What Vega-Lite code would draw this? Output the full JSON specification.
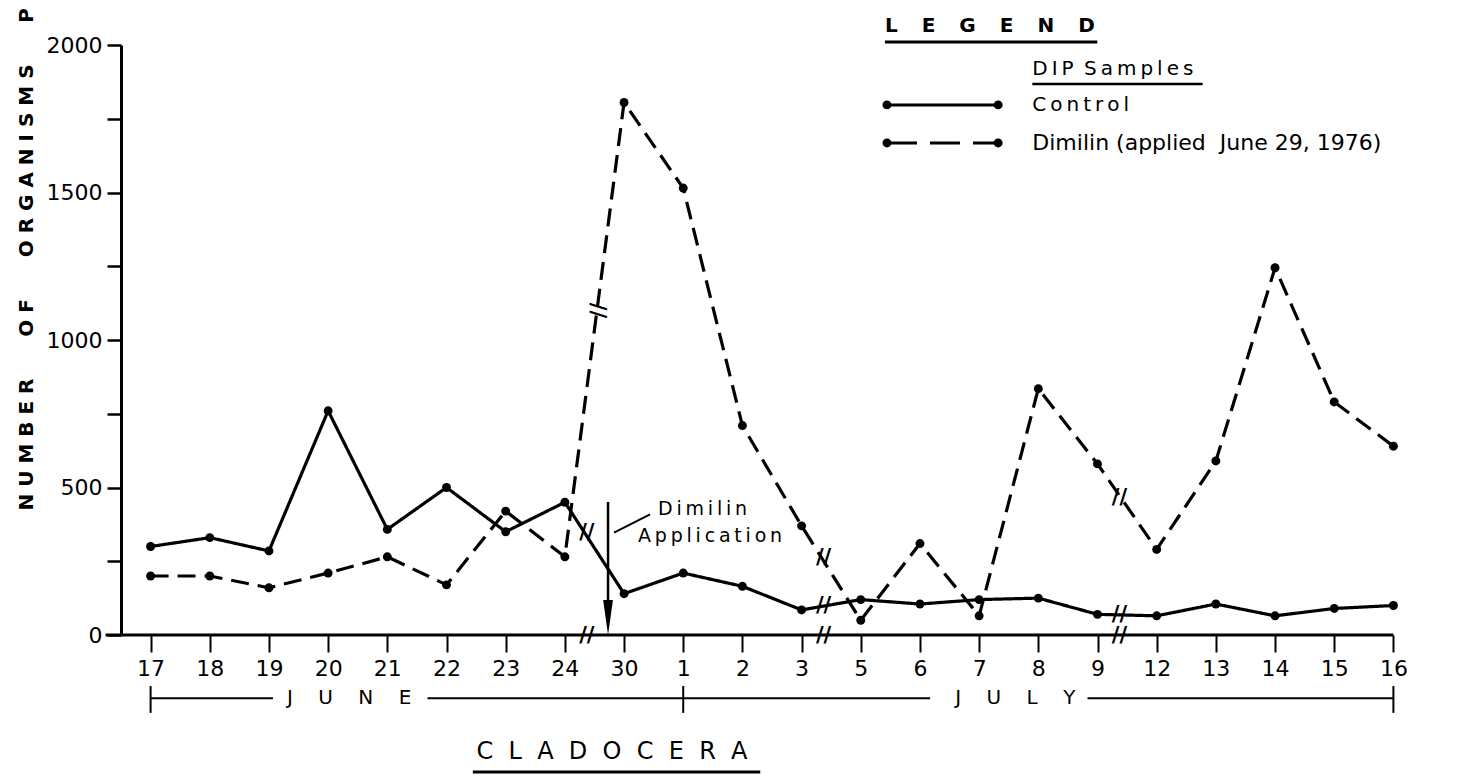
{
  "$schema": "https://vega.github.io/schema/vega-lite/v6.json",
  "width": 1302,
  "height": 590,
  "autosize": {"type": "none"},
  "padding": {"left": 121, "top": 45, "right": 35, "bottom": 148},
  "background": "white",
  "config": {
    "view": {"stroke": null},
    "font": "DejaVu Sans",
    "text": {"color": "black", "font": "DejaVu Sans"}
  },
  "datasets": {
    "counts": [
      {"day": "17", "month": "June", "series": "Control", "count": 300},
      {"day": "18", "month": "June", "series": "Control", "count": 330},
      {"day": "19", "month": "June", "series": "Control", "count": 285},
      {"day": "20", "month": "June", "series": "Control", "count": 760},
      {"day": "21", "month": "June", "series": "Control", "count": 358},
      {"day": "22", "month": "June", "series": "Control", "count": 500},
      {"day": "23", "month": "June", "series": "Control", "count": 350},
      {"day": "24", "month": "June", "series": "Control", "count": 450},
      {"day": "30", "month": "June", "series": "Control", "count": 140},
      {"day": "1", "month": "July", "series": "Control", "count": 210},
      {"day": "2", "month": "July", "series": "Control", "count": 165},
      {"day": "3", "month": "July", "series": "Control", "count": 85},
      {"day": "5", "month": "July", "series": "Control", "count": 120},
      {"day": "6", "month": "July", "series": "Control", "count": 105},
      {"day": "7", "month": "July", "series": "Control", "count": 120},
      {"day": "8", "month": "July", "series": "Control", "count": 125},
      {"day": "9", "month": "July", "series": "Control", "count": 70},
      {"day": "12", "month": "July", "series": "Control", "count": 65},
      {"day": "13", "month": "July", "series": "Control", "count": 105},
      {"day": "14", "month": "July", "series": "Control", "count": 65},
      {"day": "15", "month": "July", "series": "Control", "count": 90},
      {"day": "16", "month": "July", "series": "Control", "count": 100},
      {"day": "17", "month": "June", "series": "Dimilin", "count": 200},
      {"day": "18", "month": "June", "series": "Dimilin", "count": 200},
      {"day": "19", "month": "June", "series": "Dimilin", "count": 160},
      {"day": "20", "month": "June", "series": "Dimilin", "count": 210},
      {"day": "21", "month": "June", "series": "Dimilin", "count": 265},
      {"day": "22", "month": "June", "series": "Dimilin", "count": 170},
      {"day": "23", "month": "June", "series": "Dimilin", "count": 420},
      {"day": "24", "month": "June", "series": "Dimilin", "count": 265},
      {"day": "30", "month": "June", "series": "Dimilin", "count": 1805},
      {"day": "1", "month": "July", "series": "Dimilin", "count": 1515},
      {"day": "2", "month": "July", "series": "Dimilin", "count": 710},
      {"day": "3", "month": "July", "series": "Dimilin", "count": 370},
      {"day": "5", "month": "July", "series": "Dimilin", "count": 50},
      {"day": "6", "month": "July", "series": "Dimilin", "count": 310},
      {"day": "7", "month": "July", "series": "Dimilin", "count": 65},
      {"day": "8", "month": "July", "series": "Dimilin", "count": 835},
      {"day": "9", "month": "July", "series": "Dimilin", "count": 580},
      {"day": "12", "month": "July", "series": "Dimilin", "count": 290},
      {"day": "13", "month": "July", "series": "Dimilin", "count": 590},
      {"day": "14", "month": "July", "series": "Dimilin", "count": 1245},
      {"day": "15", "month": "July", "series": "Dimilin", "count": 790},
      {"day": "16", "month": "July", "series": "Dimilin", "count": 640}
    ],
    "breaks": [
      {"day": "24", "count": 345, "line": "Control"},
      {"day": "24", "count": 1100, "line": "Steep"},
      {"day": "3", "count": 262, "line": "Dimilin"},
      {"day": "3", "count": 97, "line": "Control"},
      {"day": "9", "count": 463, "line": "Dimilin"},
      {"day": "9", "count": 68, "line": "Control"},
      {"day": "24", "count": -4, "line": "axis"},
      {"day": "3", "count": -4, "line": "axis"},
      {"day": "9", "count": -4, "line": "axis"}
    ]
  },
  "layer": [
    {
      "data": {"name": "counts"},
      "mark": {"type": "line", "color": "black", "strokeWidth": 3.2},
      "encoding": {
        "x": {
          "field": "day",
          "type": "ordinal",
          "sort": ["17","18","19","20","21","22","23","24","30","1","2","3","5","6","7","8","9","12","13","14","15","16"],
          "scale": {"type": "point", "padding": 0.5, "domain": ["17","18","19","20","21","22","23","24","30","1","2","3","5","6","7","8","9","12","13","14","15","16"]},
          "axis": {
            "title": null,
            "domain": false,
            "grid": false,
            "labelAngle": 0,
            "tickSize": 17,
            "tickWidth": 2,
            "tickColor": "black",
            "labelFont": "DejaVu Sans",
            "labelFontSize": 22,
            "labelColor": "black",
            "labelPadding": 6
          }
        },
        "y": {
          "field": "count",
          "type": "quantitative",
          "scale": {"domain": [0, 2000], "nice": false, "zero": false},
          "axis": {
            "values": [0, 250, 500, 750, 1000, 1250, 1500, 1750, 2000],
            "format": "d",
            "labelExpr": "datum.value % 500 === 0 ? datum.label : ''",
            "grid": false,
            "domainColor": "black",
            "domainWidth": 3,
            "tickColor": "black",
            "tickWidth": 2.5,
            "tickSize": 14,
            "labelFont": "DejaVu Sans",
            "labelFontSize": 22,
            "labelColor": "black",
            "labelPadding": 5,
            "title": "N\u00a0U\u00a0M\u00a0B\u00a0E\u00a0R\u00a0\u00a0\u00a0\u00a0\u00a0\u00a0O\u00a0F\u00a0\u00a0\u00a0\u00a0\u00a0\u00a0O\u00a0R\u00a0G\u00a0A\u00a0N\u00a0I\u00a0S\u00a0M\u00a0S\u00a0\u00a0\u00a0\u00a0\u00a0\u00a0P",
            "titleFont": "DejaVu Sans",
            "titleFontSize": 20,
            "titleFontWeight": "bold",
            "titleColor": "black",
            "titleAngle": 270,
            "titleAlign": "left",
            "titleBaseline": "middle",
            "titleX": -95,
            "titleY": 465
          }
        },
        "strokeDash": {
          "field": "series",
          "type": "nominal",
          "scale": {"domain": ["Control", "Dimilin"], "range": [[1, 0], [18, 9]]},
          "legend": null
        }
      }
    },
    {
      "data": {"name": "counts"},
      "mark": {"type": "point", "filled": true, "color": "black", "size": 80, "opacity": 1},
      "encoding": {
        "x": {"field": "day", "type": "ordinal", "sort": ["17","18","19","20","21","22","23","24","30","1","2","3","5","6","7","8","9","12","13","14","15","16"]},
        "y": {"field": "count", "type": "quantitative"}
      }
    },
    {
      "data": {"name": "breaks"},
      "transform": [{"filter": "datum.line !== 'Steep'"}],
      "mark": {"type": "text", "text": "//", "dx": 22, "fontSize": 21, "fontWeight": "bold", "color": "black"},
      "encoding": {
        "x": {"field": "day", "type": "ordinal", "sort": ["17","18","19","20","21","22","23","24","30","1","2","3","5","6","7","8","9","12","13","14","15","16"]},
        "y": {"field": "count", "type": "quantitative"}
      }
    },
    {
      "data": {"name": "breaks"},
      "transform": [{"filter": "datum.line === 'Steep'"}],
      "mark": {"type": "text", "text": "//", "dx": 0, "dy": -32, "angle": 90, "fontSize": 21, "fontWeight": "bold", "color": "black"},
      "encoding": {
        "x": {"field": "day", "type": "ordinal", "sort": ["17","18","19","20","21","22","23","24","30","1","2","3","5","6","7","8","9","12","13","14","15","16"]},
        "y": {"field": "count", "type": "quantitative"}
      }
    },
    {
      "data": {"values": [{"part": "x axis line"}]},
      "mark": {"type": "rule", "color": "black", "strokeWidth": 3, "xOffset": -45},
      "encoding": {
        "x": {"datum": "17"},
        "x2": {"datum": "16"},
        "y": {"datum": 0}
      }
    },
    {
      "data": {"values": [{"part": "arrow"}]},
      "mark": {"type": "rule", "color": "black", "strokeWidth": 2.5, "xOffset": -16},
      "encoding": {
        "x": {"datum": "30"},
        "y": {"datum": 451},
        "y2": {"datum": 100}
      }
    },
    {
      "data": {"values": [{"part": "arrowhead"}]},
      "mark": {"type": "point", "shape": "M-0.28,-1L0.28,-1L0,1Z", "filled": true, "color": "black", "size": 1225, "opacity": 1, "xOffset": -16},
      "encoding": {
        "x": {"datum": "30"},
        "y": {"datum": 59}
      }
    },
    {
      "data": {"values": [{"part": "leader"}]},
      "mark": {"type": "rule", "color": "black", "strokeWidth": 2, "xOffset": -10, "x2Offset": 26},
      "encoding": {
        "x": {"datum": "30"},
        "x2": {"datum": "30"},
        "y": {"datum": 347},
        "y2": {"datum": 409}
      }
    },
    {
      "data": {"values": [{"label": "D\u2009i\u2009m\u2009i\u2009l\u2009i\u2009n"}]},
      "mark": {"type": "text", "align": "left", "baseline": "middle", "dx": 34, "fontSize": 19, "color": "black"},
      "encoding": {
        "x": {"datum": "30"},
        "y": {"datum": 427},
        "text": {"field": "label"}
      }
    },
    {
      "data": {"values": [{"label": "A\u2009p\u2009p\u2009l\u2009i\u2009c\u2009a\u2009t\u2009i\u2009o\u2009n"}]},
      "mark": {"type": "text", "align": "left", "baseline": "middle", "dx": 14, "fontSize": 19, "color": "black"},
      "encoding": {
        "x": {"datum": "30"},
        "y": {"datum": 336},
        "text": {"field": "label"}
      }
    },
    {
      "data": {"values": [{"label": "L\u2003\u2009E\u2003\u2009G\u2003\u2009E\u2003\u2009N\u2003\u2009D"}]},
      "mark": {"type": "text", "align": "left", "baseline": "middle", "dx": -35, "fontSize": 20, "fontWeight": "bold", "color": "black"},
      "encoding": {
        "x": {"datum": "6"},
        "y": {"datum": 2064},
        "text": {"field": "label"}
      }
    },
    {
      "data": {"values": [{"part": "legend underline"}]},
      "mark": {"type": "rule", "color": "black", "strokeWidth": 3, "xOffset": -35, "x2Offset": 59},
      "encoding": {
        "x": {"datum": "6"},
        "x2": {"datum": "8"},
        "y": {"datum": 2010}
      }
    },
    {
      "data": {"values": [{"label": "D\u2009I\u2009P\u00a0\u2009S\u2009a\u2009m\u2009p\u2009l\u2009e\u2009s"}]},
      "mark": {"type": "text", "align": "left", "baseline": "middle", "dx": -6, "fontSize": 20, "color": "black"},
      "encoding": {
        "x": {"datum": "8"},
        "y": {"datum": 1919},
        "text": {"field": "label"}
      }
    },
    {
      "data": {"values": [{"part": "dip underline"}]},
      "mark": {"type": "rule", "color": "black", "strokeWidth": 2.5, "xOffset": -6, "x2Offset": 46},
      "encoding": {
        "x": {"datum": "8"},
        "x2": {"datum": "12"},
        "y": {"datum": 1868}
      }
    },
    {
      "data": {"values": [{"series": "Control"}]},
      "mark": {"type": "rule", "color": "black", "strokeWidth": 3, "xOffset": -33, "x2Offset": 19},
      "encoding": {
        "x": {"datum": "6"},
        "x2": {"datum": "7"},
        "y": {"datum": 1797}
      }
    },
    {
      "data": {"values": [{"series": "Dimilin"}]},
      "mark": {"type": "rule", "color": "black", "strokeWidth": 3, "strokeDash": [30, 13], "xOffset": -33, "x2Offset": 19},
      "encoding": {
        "x": {"datum": "6"},
        "x2": {"datum": "7"},
        "y": {"datum": 1668}
      }
    },
    {
      "data": {"values": [{"series": "Control"}]},
      "mark": {"type": "point", "filled": true, "color": "black", "size": 80, "opacity": 1, "xOffset": -33},
      "encoding": {"x": {"datum": "6"}, "y": {"datum": 1797}}
    },
    {
      "data": {"values": [{"series": "Control"}]},
      "mark": {"type": "point", "filled": true, "color": "black", "size": 80, "opacity": 1, "xOffset": 19},
      "encoding": {"x": {"datum": "7"}, "y": {"datum": 1797}}
    },
    {
      "data": {"values": [{"series": "Dimilin"}]},
      "mark": {"type": "point", "filled": true, "color": "black", "size": 80, "opacity": 1, "xOffset": -33},
      "encoding": {"x": {"datum": "6"}, "y": {"datum": 1668}}
    },
    {
      "data": {"values": [{"series": "Dimilin"}]},
      "mark": {"type": "point", "filled": true, "color": "black", "size": 80, "opacity": 1, "xOffset": 19},
      "encoding": {"x": {"datum": "7"}, "y": {"datum": 1668}}
    },
    {
      "data": {"values": [{"label": "C\u2009o\u2009n\u2009t\u2009r\u2009o\u2009l"}]},
      "mark": {"type": "text", "align": "left", "baseline": "middle", "dx": -6, "fontSize": 20, "color": "black"},
      "encoding": {
        "x": {"datum": "8"},
        "y": {"datum": 1797},
        "text": {"field": "label"}
      }
    },
    {
      "data": {"values": [{"label": "Dimilin\u00a0(applied\u00a0\u00a0June\u00a029,\u00a01976)"}]},
      "mark": {"type": "text", "align": "left", "baseline": "middle", "dx": -6, "fontSize": 22, "color": "black"},
      "encoding": {
        "x": {"datum": "8"},
        "y": {"datum": 1668},
        "text": {"field": "label"}
      }
    },
    {
      "data": {"values": [{"part": "june bracket left"}]},
      "mark": {"type": "rule", "color": "black", "strokeWidth": 2, "x2Offset": 4},
      "encoding": {
        "x": {"datum": "17"},
        "x2": {"datum": "19"},
        "y": {"datum": -214}
      }
    },
    {
      "data": {"values": [{"part": "june bracket right"}]},
      "mark": {"type": "rule", "color": "black", "strokeWidth": 2, "xOffset": -19},
      "encoding": {
        "x": {"datum": "22"},
        "x2": {"datum": "1"},
        "y": {"datum": -214}
      }
    },
    {
      "data": {"values": [{"part": "july bracket left"}]},
      "mark": {"type": "rule", "color": "black", "strokeWidth": 2, "x2Offset": -49},
      "encoding": {
        "x": {"datum": "1"},
        "x2": {"datum": "7"},
        "y": {"datum": -214}
      }
    },
    {
      "data": {"values": [{"part": "july bracket right"}]},
      "mark": {"type": "rule", "color": "black", "strokeWidth": 2, "xOffset": -10},
      "encoding": {
        "x": {"datum": "9"},
        "x2": {"datum": "16"},
        "y": {"datum": -214}
      }
    },
    {
      "data": {"values": [{"day": "17"}, {"day": "1"}, {"day": "16"}]},
      "mark": {"type": "rule", "color": "black", "strokeWidth": 2},
      "encoding": {
        "x": {"field": "day", "type": "ordinal", "sort": ["17","18","19","20","21","22","23","24","30","1","2","3","5","6","7","8","9","12","13","14","15","16"]},
        "y": {"datum": -173},
        "y2": {"datum": -264}
      }
    },
    {
      "data": {"values": [{"label": "J\u00a0\u00a0\u00a0\u00a0U\u00a0\u00a0\u00a0\u00a0N\u00a0\u00a0\u00a0\u00a0E"}]},
      "mark": {"type": "text", "dx": 21, "fontSize": 20, "color": "black"},
      "encoding": {
        "x": {"datum": "20"},
        "y": {"datum": -214},
        "text": {"field": "label"}
      }
    },
    {
      "data": {"values": [{"label": "J\u00a0\u00a0\u00a0\u00a0U\u00a0\u00a0\u00a0\u00a0L\u00a0\u00a0\u00a0\u00a0Y"}]},
      "mark": {"type": "text", "dx": -23, "fontSize": 20, "color": "black"},
      "encoding": {
        "x": {"datum": "8"},
        "y": {"datum": -214},
        "text": {"field": "label"}
      }
    },
    {
      "data": {"values": [{"label": "C\u00a0\u00a0L\u00a0\u00a0A\u00a0\u00a0D\u00a0\u00a0O\u00a0\u00a0C\u00a0\u00a0E\u00a0\u00a0R\u00a0\u00a0A"}]},
      "mark": {"type": "text", "dx": -12, "fontSize": 24, "color": "black"},
      "encoding": {
        "x": {"datum": "30"},
        "y": {"datum": -397},
        "text": {"field": "label"}
      }
    },
    {
      "data": {"values": [{"part": "title underline"}]},
      "mark": {"type": "rule", "color": "black", "strokeWidth": 3, "xOffset": -92, "x2Offset": 77},
      "encoding": {
        "x": {"datum": "24"},
        "x2": {"datum": "1"},
        "y": {"datum": -464}
      }
    }
  ]
}
